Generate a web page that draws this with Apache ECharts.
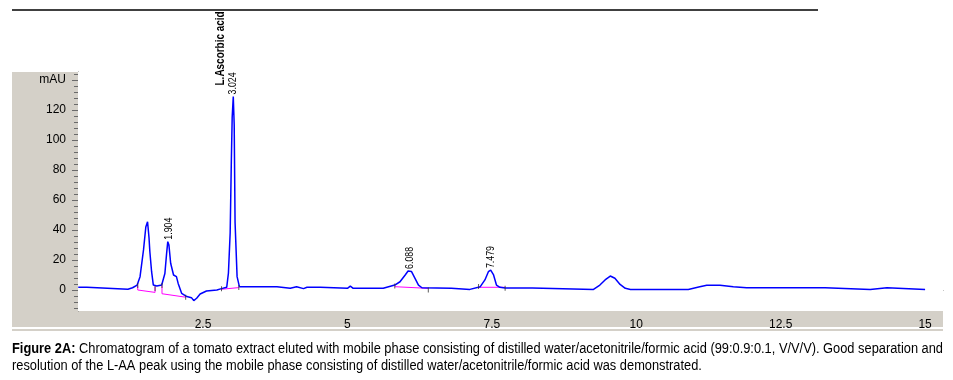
<!DOCTYPE html>
<html>
<head>
<meta charset="utf-8">
<script src="https://cdn.jsdelivr.net/npm/echarts@6/dist/echarts.min.js"></script>
<style>
html,body{margin:0;padding:0;background:#fff;}
#c{width:953px;height:380px;}
</style>
</head>
<body>
<div id="c"></div>
<script>
// Chromatogram trace (retention time in min, absorbance in mAU)
const timeMin = [0.34,0.49,0.51,1.20,1.28,1.36,1.41,1.47,1.51,1.54,1.565,1.58,1.61,1.64,1.70,1.785,1.84,1.87,1.89,1.91,1.94,1.99,2.04,2.07,2.13,2.22,2.30,2.34,2.39,2.45,2.56,2.74,2.82,2.91,2.94,2.97,2.99,3.005,3.024,3.04,3.055,3.09,3.13,3.78,3.80,4.01,4.04,4.12,4.15,4.24,4.30,4.53,4.56,5.00,5.05,5.10,5.62,5.65,5.82,5.91,6.00,6.05,6.11,6.17,6.23,6.29,6.80,6.83,7.12,7.14,7.30,7.38,7.44,7.48,7.53,7.58,7.64,7.73,8.20,8.22,9.26,9.37,9.46,9.55,9.63,9.72,9.81,9.90,10.90,10.92,11.10,11.22,11.45,11.48,11.68,11.91,13.27,13.30,14.05,14.08,14.34,14.36,15.00];
const absorbance = [1.8,1.8,0.5,0.5,1.5,3.3,8.9,26.7,42,45.5,35,25.5,12.2,3.3,2.7,3.3,11,24.4,32.2,30,17.8,10,8.9,4.4,-2.2,-4.4,-5.1,-7.1,-5.5,-2.7,-0.7,0,0.9,1.8,11.3,38,85,115,129,110,45,8.9,2.2,2.2,1.1,1.1,2.2,2.2,0.9,0.9,1.8,1.8,1.1,1.1,2.6,1.1,1.1,2.2,3.3,5.5,10,12.7,12.3,7.8,3.3,1.5,1.1,0.4,0.4,1.5,2.2,6.7,12.2,13.3,10,3.3,1.8,1.3,1.3,0.4,0.4,3.3,6.7,9.3,7.8,3.7,1.1,0.4,0.4,1.1,2.2,3.1,3.1,2.6,2.2,1.5,1.5,0.4,0.4,1.5,1.5,0.4,0.4];

// Integration baselines (null separates peaks)
const baseTime = [1.37,1.37,1.67,1.67,null,1.79,1.79,2.20,null,2.82,3.12,null,5.82,6.40,null,7.27,7.73];
const baseValue = [3,0,-1.6,2.2,null,3,-2.5,-4.8,null,0.5,1.6,null,2.2,1.1,null,1.8,1.8];

// Peak start/end markers
const markTime = [1.37,1.67,1.79,2.20,2.82,3.12,5.82,6.40,7.27,7.73];
const markValue = [3,1,3,-4.8,0.8,1.6,2.6,0,2.4,1.2];

// Labelled peaks
const peakTime = [1.904,3.024,6.088,7.479];
const peakHeight = [32.2,129,12.7,13.3];
const peakText = ['1.904','3.024','6.088','7.479'];
const compoundTime = [3.024];
const compoundHeight = [129];
const compoundName = ['L.Ascorbic acid'];

// Axis ticks
const xLabelValues = [2.5,5,7.5,10,12.5,15];
const xTickValues = [];
for (let i = 1; i <= 30; i++) xTickValues.push(i * 0.5);
const yLabelValues = [0,20,40,60,80,100,120,140];
const yMinorValues = [];
for (let v = -12; v <= 144; v += 4) yMinorValues.push(v);

const captionBold = 'Figure 2A:';
const captionLine1 = ' Chromatogram of a tomato extract eluted with mobile phase consisting of distilled water/acetonitrile/formic acid (99:0.9:0.1, V/V/V). Good separation and';
const captionLine2 = 'resolution of the L-AA peak using the mobile phase consisting of distilled water/acetonitrile/formic acid was demonstrated.';

const SANS = '"Liberation Sans",Arial,sans-serif';
const gray = '#d4d0c8';
const axisGray = '#6a6a6a';

// condensed look: measure and squeeze caption to its width
const cv = document.createElement('canvas').getContext('2d');
const capSize = 14;
cv.font = 'bold ' + capSize + 'px ' + SANS;
let w1 = cv.measureText(captionBold).width;
cv.font = capSize + 'px ' + SANS;
w1 += cv.measureText(captionLine1).width;
const capScale = 931 / w1;

function rotatedLabels(times, heights, texts, opts) {
  return {
    type: 'custom', coordinateSystem: 'cartesian2d', clip: false, z: 7, silent: true,
    data: times.map((t, i) => [t, heights[i]]),
    renderItem: (params, api) => {
      const p = api.coord([api.value(0), api.value(1)]);
      return {
        type: 'text', x: p[0] + opts.dx, y: p[1] + opts.dy, rotation: Math.PI / 2, scaleX: opts.squeeze,
        style: {text: texts[params.dataIndex], font: opts.font, fill: '#000', textAlign: 'left', textVerticalAlign: 'middle'}
      };
    }
  };
}

const chart = echarts.init(document.getElementById('c'), null, {renderer: 'canvas'});
chart.setOption({
  animation: false,
  backgroundColor: '#fff',
  grid: {left: 78, right: 10, top: 72, bottom: 69, show: true, backgroundColor: '#fff', borderWidth: 0, z: 1},
  graphic: [
    {type: 'line', z: 0, shape: {x1: 12, y1: 10, x2: 818, y2: 10}, style: {stroke: '#000', lineWidth: 1.5}},
    {type: 'rect', z: -10, shape: {x: 12, y: 72, width: 931, height: 255}, style: {fill: gray}},
    {type: 'rect', z: -10, shape: {x: 12, y: 329, width: 931, height: 2}, style: {fill: gray}},
    {type: 'text', z: 10, x: 12, y: 341, scaleX: capScale, style: {
      text: '{b|' + captionBold + '}' + captionLine1 + '\n' + captionLine2,
      font: capSize + 'px ' + SANS, fill: '#000', lineHeight: 17, textVerticalAlign: 'top',
      rich: {b: {fontWeight: 'bold', fontFamily: SANS, fontSize: capSize, fill: '#000'}}
    }}
  ],
  xAxis: {
    type: 'value', min: 0.336, max: 15.31,
    splitLine: {show: false},
    axisLine: {lineStyle: {color: axisGray, width: 1}},
    axisTick: {customValues: xTickValues, length: 4, lineStyle: {color: axisGray}},
    axisLabel: {customValues: xLabelValues, formatter: v => String(v), fontFamily: SANS, fontSize: 12, color: '#000', margin: 8}
  },
  yAxis: [{
    type: 'value', min: -14, max: 145.3,
    splitLine: {show: false},
    axisLine: {lineStyle: {color: axisGray, width: 1}},
    axisTick: {customValues: yLabelValues, length: 6, lineStyle: {color: axisGray}},
    axisLabel: {customValues: yLabelValues, formatter: v => (v === 140 ? 'mAU' : String(v)), fontFamily: SANS, fontSize: 12, color: '#000', margin: 12}
  }, {
    type: 'value', min: -14, max: 145.3, position: 'left',
    splitLine: {show: false},
    axisLine: {show: false},
    axisTick: {customValues: yMinorValues, length: 4, lineStyle: {color: axisGray}},
    axisLabel: {show: false}
  }],
  series: [
    {type: 'line', name: 'trace', data: timeMin.map((t, i) => [t, absorbance[i]]), showSymbol: false, symbol: 'none',
     lineStyle: {color: '#0000ff', width: 1.5}, z: 5},
    {type: 'line', name: 'baseline', data: baseTime.map((t, i) => [t, baseValue[i]]), connectNulls: false, symbol: 'none',
     lineStyle: {color: '#ff00ff', width: 1}, z: 4},
    {type: 'scatter', name: 'marks', data: markTime.map((t, i) => [t, markValue[i]]), symbol: 'rect', symbolSize: [1, 5],
     itemStyle: {color: '#333'}, z: 6},
    rotatedLabels(peakTime, peakHeight, peakText, {dx: 0, dy: -2, squeeze: 0.8, font: '11px ' + SANS}),
    rotatedLabels(compoundTime, compoundHeight, compoundName, {dx: -13, dy: -11, squeeze: 0.765, font: 'bold 13px ' + SANS})
  ]
});
</script>
</body>
</html>
